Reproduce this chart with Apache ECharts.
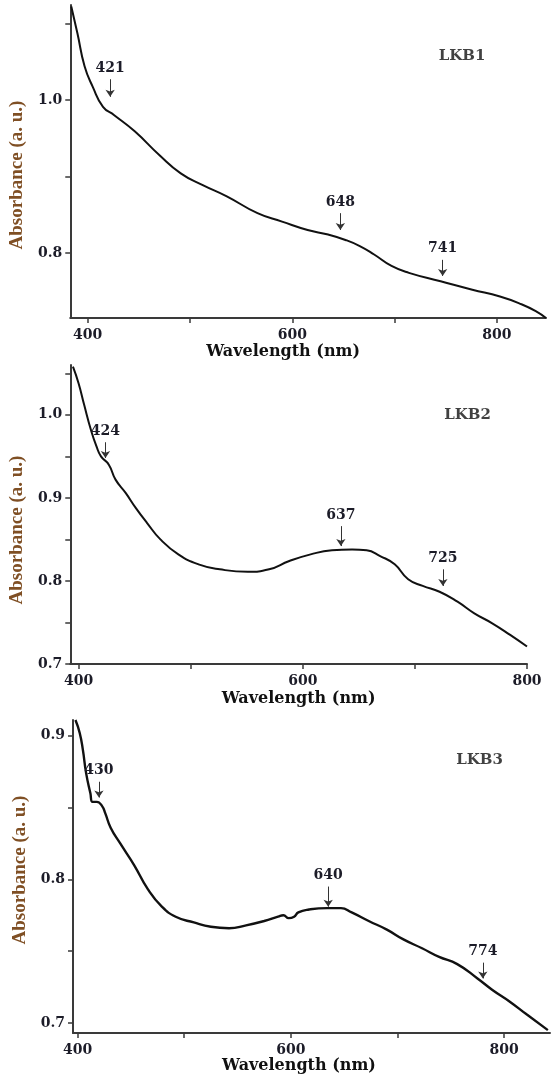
<!DOCTYPE html>
<html>
<head>
<meta charset="utf-8">
<script src="https://cdn.jsdelivr.net/npm/echarts@6.0.0/dist/echarts.min.js"></script>
<style>
  html, body { margin: 0; padding: 0; background: #fff; }
  #chart { width: 551px; height: 1079px; }
</style>
</head>
<body>
<div id="chart"></div>
<script>
// wavelength (nm) / absorbance (a. u.)
const wl1 = [384, 390, 397, 405, 415, 426, 446, 470, 491, 512, 536, 566, 590, 615, 635, 652, 666, 680, 697, 714, 745, 776, 803, 824, 838, 848]
const abs1 = [1.122, 1.087, 1.044, 1.017, 0.991, 0.980, 0.959, 0.928, 0.904, 0.889, 0.874, 0.852, 0.841, 0.830, 0.824, 0.817, 0.809, 0.798, 0.783, 0.774, 0.763, 0.752, 0.743, 0.733, 0.724, 0.715]

const wl2 = [395, 400, 405, 411, 416, 420, 427, 433, 442, 451, 461, 473, 489, 507, 526, 551, 570, 588, 607, 626, 644, 657, 669, 682, 694, 707, 722, 738, 753, 769, 785, 800]
const abs2 = [1.058, 1.038, 1.012, 0.982, 0.962, 0.950, 0.940, 0.922, 0.906, 0.888, 0.870, 0.850, 0.832, 0.820, 0.814, 0.811, 0.814, 0.824, 0.832, 0.837, 0.838, 0.837, 0.830, 0.820, 0.802, 0.794, 0.787, 0.775, 0.761, 0.749, 0.735, 0.721]

const wl3 = [398, 402, 405, 408, 412, 414, 418, 423, 426, 431, 440, 453, 466, 479, 492, 509, 525, 542, 558, 575, 588, 593, 598, 603, 607, 617, 634, 647, 657, 673, 690, 706, 723, 739, 756, 775, 789, 805, 821, 841]
const abs3 = [0.911, 0.902, 0.890, 0.874, 0.860, 0.854, 0.854, 0.851, 0.846, 0.836, 0.825, 0.810, 0.793, 0.781, 0.774, 0.770, 0.767, 0.766, 0.768, 0.771, 0.774, 0.775, 0.773, 0.774, 0.777, 0.779, 0.780, 0.780, 0.777, 0.771, 0.765, 0.758, 0.752, 0.746, 0.741, 0.731, 0.723, 0.715, 0.706, 0.695]

// band labels and their arrows
const peaks1 = ['421', '648', '741']
const peakAt1 = [422, 647, 747]
const arrowTop1 = [1.027, 0.852, 0.791]
const arrowTip1 = [1.004, 0.830, 0.770]

const peaks2 = ['424', '637', '725']
const peakAt2 = [424, 634, 725]
const arrowTop2 = [0.967, 0.866, 0.814]
const arrowTip2 = [0.948, 0.842, 0.794]

const peaks3 = ['430', '640', '774']
const peakAt3 = [420, 635, 780]
const arrowTop3 = [0.868, 0.795, 0.742]
const arrowTip3 = [0.857, 0.781, 0.731]

const samples = ['LKB1', 'LKB2', 'LKB3']
const sampleAt = [[766, 1.057], [747, 1.0], [777, 0.883]]

const xTicks = [400, 500, 600, 700, 800]
const xLabels = [400, 600, 800]

const panels = [
  {
    wl: wl1, abs: abs1, peaks: peaks1, at: peakAt1, top: arrowTop1, tip: arrowTip1,
    grid: { left: 67, right: 5, top: 5, height: 313 },
    xMin: 383, xMax: 848, yMin: 0.715, yMax: 1.124,
    yTicks: [0.8, 0.9, 1.0, 1.1], yLabels: [0.8, 1.0],
    xNamePad: [0, 50, 0, 0], yNamePad: [0, 27, 0, 0], yGap: 43, xGap: 26, width: 2
  },
  {
    wl: wl2, abs: abs2, peaks: peaks2, at: peakAt2, top: arrowTop2, tip: arrowTip2,
    grid: { left: 67, right: 24, top: 365, height: 299 },
    xMin: 392.6, xMax: 800, yMin: 0.7, yMax: 1.06,
    yTicks: [0.7, 0.75, 0.8, 0.85, 0.9, 0.95, 1.0, 1.05], yLabels: [0.7, 0.8, 0.9, 1.0],
    xNamePad: [0, 0, 0, 0], yNamePad: [0, 31, 0, 0], yGap: 40, xGap: 27, width: 2
  },
  {
    wl: wl3, abs: abs3, peaks: peaks3, at: peakAt3, top: arrowTop3, tip: arrowTip3,
    grid: { left: 73, right: 1, top: 720, height: 313 },
    xMin: 395.7, xMax: 843, yMin: 0.693, yMax: 0.911,
    yTicks: [0.7, 0.75, 0.8, 0.85, 0.9], yLabels: [0.7, 0.8, 0.9],
    xNamePad: [0, 25, 0, 0], yNamePad: [0, 0, 0, 13], yGap: 39, xGap: 25, width: 2.4
  }
]

const axisColor = '#3a3a3a'
const tickFont = { fontFamily: 'DejaVu Serif', fontWeight: 'bold', fontSize: 14, color: '#1c1c28' }

const grid = []
const xAxis = []
const yAxis = []
const series = []

panels.forEach((p, i) => {
  grid.push(p.grid)
  xAxis.push({
    gridIndex: i,
    type: 'value',
    min: p.xMin,
    max: p.xMax,
    splitLine: { show: false },
    axisLine: { show: true, onZero: false, lineStyle: { color: axisColor, width: 2 } },
    axisTick: { show: true, length: 5, customValues: xTicks, lineStyle: { color: axisColor, width: 1.5 } },
    axisLabel: Object.assign({ customValues: xLabels, margin: 10 }, tickFont),
    name: 'Wavelength (nm)',
    nameLocation: 'middle',
    nameGap: p.xGap,
    nameTextStyle: { fontFamily: 'DejaVu Serif', fontWeight: 'bold', fontSize: 16, color: '#111', padding: p.xNamePad }
  })
  yAxis.push({
    gridIndex: i,
    type: 'value',
    min: p.yMin,
    max: p.yMax,
    splitLine: { show: false },
    axisLine: { show: true, onZero: false, lineStyle: { color: axisColor, width: 2 } },
    axisTick: { show: true, length: 5, customValues: p.yTicks, lineStyle: { color: axisColor, width: 1.5 } },
    axisLabel: Object.assign({ customValues: p.yLabels, margin: 8, formatter: v => v.toFixed(1) }, tickFont),
    name: 'Absorbance (a. u.)',
    nameLocation: 'middle',
    nameRotate: 90,
    nameGap: p.yGap,
    nameTextStyle: { fontFamily: 'Liberation Serif', fontWeight: 'bold', fontSize: 19, color: '#7f4f24', padding: p.yNamePad }
  })

  series.push({
    type: 'line',
    xAxisIndex: i,
    yAxisIndex: i,
    data: p.wl.map((w, k) => [w, p.abs[k]]),
    symbol: 'none',
    smooth: 0.5,
    lineStyle: { color: '#111', width: p.width },
    silent: true,
    markLine: {
      silent: true,
      symbol: ['none', 'arrow'],
      symbolSize: 7,
      lineStyle: { color: '#333', width: 1, type: 'solid' },
      emphasis: { disabled: true },
      label: Object.assign({ show: true, position: 'start', distance: 4, formatter: '{b}' }, tickFont),
      data: p.peaks.map((name, k) => [
        { name: name, coord: [p.at[k], p.top[k]] },
        { coord: [p.at[k], p.tip[k]] }
      ])
    }
  })

  series.push({
    type: 'scatter',
    xAxisIndex: i,
    yAxisIndex: i,
    data: [{ value: sampleAt[i], name: samples[i] }],
    symbolSize: 0,
    silent: true,
    itemStyle: { color: '#111' },
    label: {
      show: true,
      position: 'inside',
      formatter: '{b}',
      fontFamily: 'DejaVu Serif',
      fontWeight: 'bold',
      fontSize: 15,
      color: '#111',
      textBorderWidth: 0
    }
  })
})

const chart = echarts.init(document.getElementById('chart'))
chart.setOption({
  backgroundColor: '#fff',
  animation: false,
  grid: grid,
  xAxis: xAxis,
  yAxis: yAxis,
  series: series
})
</script>
</body>
</html>
